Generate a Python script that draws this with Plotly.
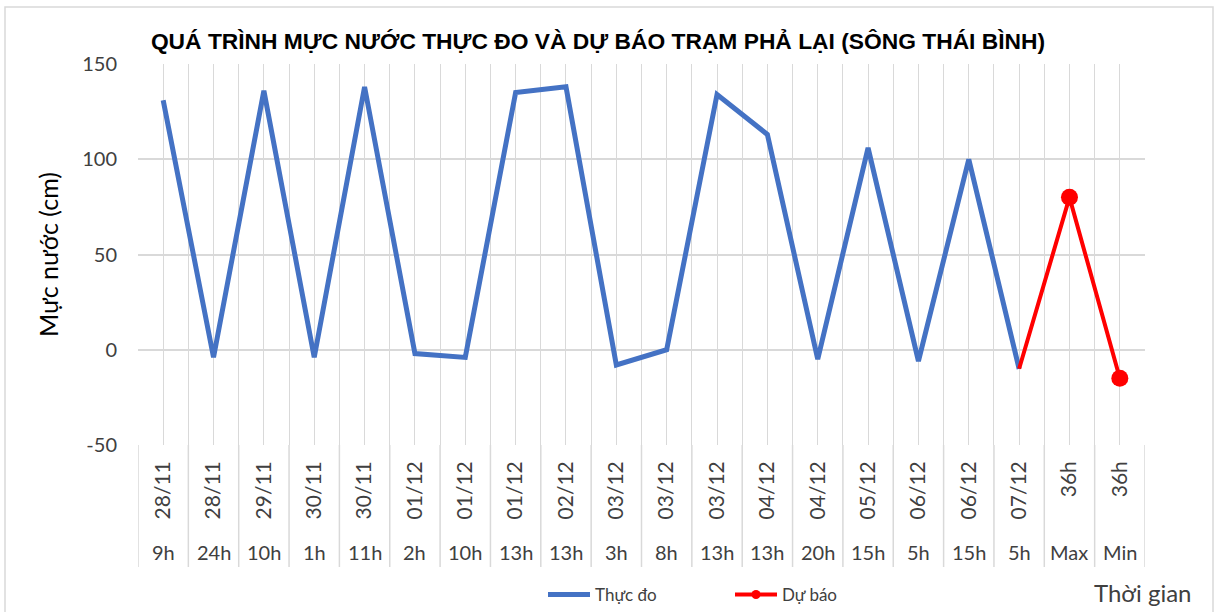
import plotly.graph_objects as go

dates = ["28/11", "28/11", "29/11", "30/11", "30/11", "01/12", "01/12", "01/12", "02/12", "03/12",
         "03/12", "03/12", "04/12", "04/12", "05/12", "06/12", "06/12", "07/12", "36h", "36h"]
hours = ["9h", "24h", "10h", "1h", "11h", "2h", "10h", "13h", "13h", "3h",
         "8h", "13h", "13h", "20h", "15h", "5h", "15h", "5h", "Max", "Min"]
thuc_do = [131, -4, 136, -4, 138, -2, -4, 135, 138, -8,
           0, 134, 113, -5, 106, -6, 100, -10, None, None]
du_bao = [None] * 17 + [-10, 80, -15]
y_ticks = [-50, 0, 50, 100, 150]
y_tick_text = ["-50", "0", "50", "100", "150"]

FONT = "Lato, 'Liberation Sans', sans-serif"
TXT = "#404040"
GRID = "#d9d9d9"
BLUE = "#4472C4"
RED = "#FF0000"

n = len(dates)
xs = list(range(n))

# marker only on the forecast points themselves (not on the joining observed point)
marker_sizes = [0 if (i < n - 2) else 17 for i in range(n)]

fig = go.Figure()
fig.add_trace(go.Scatter(x=xs, y=thuc_do, mode="lines", name="Thực đo",
                         line=dict(color=BLUE, width=5)))
fig.add_trace(go.Scatter(x=xs, y=du_bao, mode="lines+markers", name="Dự báo",
                         showlegend=False,
                         line=dict(color=RED, width=4),
                         marker=dict(color=RED, size=marker_sizes, opacity=1,
                                     line=dict(width=0))))
# legend entry for the forecast series (line with a small marker, as in the reference)
fig.add_trace(go.Scatter(x=[None], y=[None], mode="lines+markers", name="Dự báo",
                         line=dict(color=RED, width=4),
                         marker=dict(color=RED, size=9, line=dict(width=0))))

L, R, T, B = 138, 1145, 64, 445
ph = B - T
pw = R - L

# category divider lines below the plot (multi-level axis table)
for i in range(n + 1):
    fig.add_shape(type="line", xref="x", yref="paper", x0=i - 0.5, x1=i - 0.5,
                  y0=0, y1=(B - 567) / ph, line=dict(color=GRID, width=1.5))

# hour row
for i, h in enumerate(hours):
    fig.add_annotation(x=i, y=(B - 552) / ph, xref="x", yref="paper", text=h,
                       showarrow=False, font=dict(family=FONT, size=20, color=TXT),
                       xanchor="center", yanchor="middle")

fig.add_annotation(x=(1143 - L) / pw, y=(B - 592) / ph, xref="paper", yref="paper",
                   text="Thời gian", showarrow=False, xanchor="center", yanchor="middle",
                   font=dict(family=FONT, size=24, color=TXT))

# outer chart border
fig.add_shape(type="rect", xref="paper", yref="paper",
              x0=(5 - L) / pw, x1=(1213 - L) / pw,
              y0=(B - 615) / ph, y1=(B - 7) / ph,
              line=dict(color=GRID, width=1.5), fillcolor="rgba(0,0,0,0)")

fig.update_layout(
    width=1217, height=612,
    margin=dict(l=L, r=1217 - R, t=T, b=612 - B, autoexpand=False),
    paper_bgcolor="white", plot_bgcolor="white",
    title=dict(text="<b>QUÁ TRÌNH MỰC NƯỚC THỰC ĐO VÀ DỰ BÁO TRẠM PHẢ LẠI (SÔNG THÁI BÌNH)</b>",
               x=598 / 1217, xanchor="center", y=1 - 41 / 612, yanchor="middle",
               font=dict(family="'Liberation Sans', sans-serif", size=22.8, color="black")),
    showlegend=True,
    legend=dict(orientation="h", x=(543 - L) / pw, xanchor="left",
                y=(B - 595) / ph, yanchor="middle",
                font=dict(family=FONT, size=17, color=TXT),
                itemwidth=42, entrywidth=130, entrywidthmode="pixels",
                bgcolor="rgba(0,0,0,0)"),
    xaxis=dict(range=[-0.5, n - 0.5], tickmode="array", tickvals=xs, ticktext=dates,
               tickangle=-90, tickfont=dict(family=FONT, size=21, color=TXT),
               showgrid=True, gridcolor=GRID, gridwidth=1, zeroline=False,
               showline=False, ticks="", ticklabelstandoff=11, automargin=False,
               minor=dict(tickmode="linear", tick0=-0.5, dtick=1, showgrid=True,
                          gridcolor=GRID, gridwidth=1)),
    yaxis=dict(range=[-50, 150], tickmode="array", tickvals=y_ticks, ticktext=y_tick_text,
               tickfont=dict(family=FONT, size=20, color=TXT),
               showgrid=True, gridcolor=GRID, gridwidth=1.5, zeroline=False,
               showline=False, ticks="", ticklabelstandoff=20, automargin=False,
               title=dict(text="Mực nước (cm)", standoff=16,
                          font=dict(family=FONT, size=25, color="black"))),
)

fig.write_html("out.html", config={"displayModeBar": False},
               post_script="document.body.style.margin='0';")
